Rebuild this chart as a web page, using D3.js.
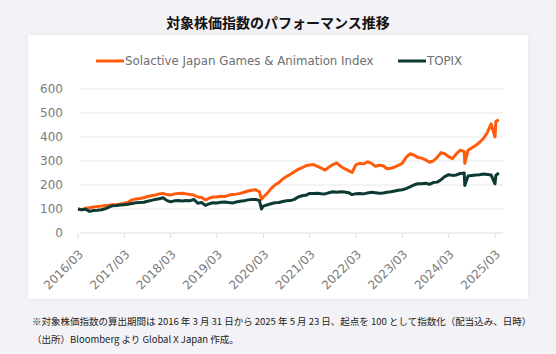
<!DOCTYPE html>
<html>
<head>
<meta charset="utf-8">
<script src="https://cdn.jsdelivr.net/npm/d3@7"></script>
<style>
  body { margin: 0; background: #f3f2f6; }
  svg { display: block; }
</style>
</head>
<body>
<div id="chart"></div>
<script>
// month-end dates (plus a few extra points for the sharp drops)
const dates = [
  "2016-03-31","2016-04-30","2016-05-31","2016-06-30","2016-07-31","2016-08-31","2016-09-30","2016-10-31","2016-11-30","2016-12-31",
  "2017-01-31","2017-02-28","2017-03-31","2017-04-30","2017-05-31","2017-06-30","2017-07-31","2017-08-31","2017-09-30","2017-10-31","2017-11-30","2017-12-31",
  "2018-01-31","2018-02-28","2018-03-31","2018-04-30","2018-05-31","2018-06-30","2018-07-31","2018-08-31","2018-09-30","2018-10-31","2018-11-30","2018-12-31",
  "2019-01-31","2019-02-28","2019-03-31","2019-04-30","2019-05-31","2019-06-30","2019-07-31","2019-08-31","2019-09-30","2019-10-31","2019-11-30","2019-12-31",
  "2020-01-31","2020-02-29","2020-03-16","2020-03-31","2020-04-30","2020-05-31","2020-06-30","2020-07-31","2020-08-31","2020-09-30","2020-10-31","2020-11-30","2020-12-31",
  "2021-01-31","2021-02-28","2021-03-31","2021-04-30","2021-05-31","2021-06-30","2021-07-31","2021-08-31","2021-09-30","2021-10-31","2021-11-30","2021-12-31",
  "2022-01-31","2022-02-28","2022-03-31","2022-04-30","2022-05-31","2022-06-30","2022-07-31","2022-08-31","2022-09-30","2022-10-31","2022-11-30","2022-12-31",
  "2023-01-31","2023-02-28","2023-03-31","2023-04-30","2023-05-31","2023-06-30","2023-07-31","2023-08-31","2023-09-30","2023-10-31","2023-11-30","2023-12-31",
  "2024-01-31","2024-02-29","2024-03-31","2024-04-30","2024-05-31","2024-06-30","2024-07-31","2024-08-05","2024-08-31","2024-09-30","2024-10-31","2024-11-30","2024-12-31",
  "2025-01-31","2025-02-28","2025-03-31","2025-04-07","2025-04-30","2025-05-23"
];

const solactive = [
  100,97,103,105,108,110,112,115,116,118,
  119,121,124,128,138,142,144,147,152,155,158,163,
  165,160,158,163,165,166,163,160,158,150,148,138,
  145,150,150,153,152,157,160,162,165,170,175,178,
  180,172,140,150,165,185,200,210,225,235,245,255,265,
  272,280,283,285,278,270,262,275,285,292,278,268,
  260,252,285,290,288,297,290,278,282,280,268,270,
  275,282,290,315,330,325,315,312,305,295,300,315,
  335,330,318,310,330,345,340,290,345,355,365,378,
  395,420,455,400,465,472
];

const topix = [
  100,97,99,90,94,95,97,101,108,114,
  115,117,118,120,123,126,127,128,132,136,140,143,
  147,136,130,134,135,133,135,134,140,124,127,115,
  122,126,125,128,129,127,125,129,132,134,138,140,
  140,135,100,112,117,122,126,127,131,134,135,140,150,
  155,157,165,165,166,164,163,168,172,170,172,171,
  168,160,164,165,163,167,170,168,166,167,170,172,
  175,178,180,185,192,200,205,205,207,203,210,212,
  222,235,243,240,242,248,250,198,238,240,242,243,
  246,244,242,205,240,250
];

const seriesNames = ["Solactive Japan Games & Animation Index", "TOPIX"];
const seriesColors = ["#ff5b0d", "#0c3a33"];
const yTicks = [0, 100, 200, 300, 400, 500, 600];
const xTickLabels = ["2016/03","2017/03","2018/03","2019/03","2020/03","2021/03","2022/03","2023/03","2024/03","2025/03"];

const width = 556;
const height = 354;
const parse = d3.timeParse("%Y-%m-%d");

const svg = d3.select("#chart")
  .append("svg")
  .attr("width", width)
  .attr("height", height);

// card behind the chart
const defs = svg.append("defs");
const f = defs.append("filter").attr("id", "shadow").attr("x", -0.05).attr("y", -0.05).attr("width", 1.1).attr("height", 1.1);
f.append("feDropShadow").attr("dx", 0).attr("dy", 0).attr("stdDeviation", 2).attr("flood-color", "#000").attr("flood-opacity", 0.06);

svg.append("rect")
  .attr("x", 28).attr("y", 35)
  .attr("width", 500).attr("height", 264)
  .attr("fill", "#fff")
  .attr("filter", "url(#shadow)");

// title
svg.append("text")
  .attr("x", 278).attr("y", 28)
  .attr("text-anchor", "middle")
  .attr("font-family", "'Noto Sans CJK JP', sans-serif")
  .attr("font-weight", "bold")
  .attr("font-size", 14)
  .attr("fill", "#111")
  .text("対象株価指数のパフォーマンス推移");

// scales
const x = d3.scaleTime()
  .domain([parse("2016-03-31"), parse("2025-03-31")])
  .range([78, 495]);

const y = d3.scaleLinear()
  .domain([0, 600])
  .range([233, 89]);

// grid + y labels
const grid = svg.append("g");
grid.selectAll("line")
  .data(yTicks)
  .enter()
  .append("line")
  .attr("x1", 80).attr("x2", 503)
  .attr("y1", d => y(d)).attr("y2", d => y(d))
  .attr("stroke", d => d === 0 ? "#dcdcdc" : "#e8e8e8")
  .attr("stroke-width", 1);

grid.selectAll("text")
  .data(yTicks)
  .enter()
  .append("text")
  .attr("x", 63)
  .attr("y", d => y(d) + 4)
  .attr("text-anchor", "end")
  .attr("font-family", "'DejaVu Sans', sans-serif")
  .attr("font-size", 12)
  .attr("fill", "#7a7a7a")
  .text(d => d);

// x axis ticks + rotated labels
const xTickDates = xTickLabels.map(s => d3.timeParse("%Y/%m/%d")(s + "/31"));
const xAxis = svg.append("g");
xAxis.selectAll("line")
  .data(xTickDates)
  .enter()
  .append("line")
  .attr("x1", d => x(d)).attr("x2", d => x(d))
  .attr("y1", 233).attr("y2", 238)
  .attr("stroke", "#dcdcdc");

xAxis.selectAll("text")
  .data(xTickLabels)
  .enter()
  .append("text")
  .attr("transform", (d, i) => `translate(${x(xTickDates[i]) + 6},${255}) rotate(-45)`)
  .attr("text-anchor", "end")
  .attr("font-family", "'DejaVu Sans', sans-serif")
  .attr("font-size", 12)
  .attr("fill", "#7a7a7a")
  .text(d => d);

// lines
const pts = dates.map(parse);
const line = d3.line()
  .x((d, i) => x(pts[i]))
  .y(d => y(d));

[solactive, topix].forEach((vals, i) => {
  svg.append("path")
    .datum(vals)
    .attr("d", line)
    .attr("fill", "none")
    .attr("stroke", seriesColors[i])
    .attr("stroke-width", 3)
    .attr("stroke-linejoin", "round");
});

// legend
const legendX = [96, 398];
const legend = svg.selectAll(".legend")
  .data(seriesNames)
  .enter()
  .append("g")
  .attr("class", "legend")
  .attr("transform", (d, i) => `translate(${legendX[i]},61)`);

legend.append("line")
  .attr("x1", 0).attr("x2", 28)
  .attr("stroke", (d, i) => seriesColors[i])
  .attr("stroke-width", 3);

legend.append("text")
  .attr("x", 29).attr("y", 4)
  .attr("font-family", "'DejaVu Sans', sans-serif")
  .attr("font-size", 11.8)
  .attr("fill", "#6e6e6e")
  .text(d => d);

// footnote
const notes = [
  "※対象株価指数の算出期間は 2016 年 3 月 31 日から 2025 年 5 月 23 日、起点を 100 として指数化（配当込み、日時）",
  "（出所）Bloomberg より Global X Japan 作成。"
];
svg.selectAll(".note")
  .data(notes)
  .enter()
  .append("text")
  .attr("class", "note")
  .attr("x", 32)
  .attr("y", (d, i) => 325 + i * 18)
  .attr("font-family", "'Noto Sans CJK JP', sans-serif")
  .attr("font-size", 9.5)
  .attr("fill", "#222")
  .text(d => d);
</script>
</body>
</html>
